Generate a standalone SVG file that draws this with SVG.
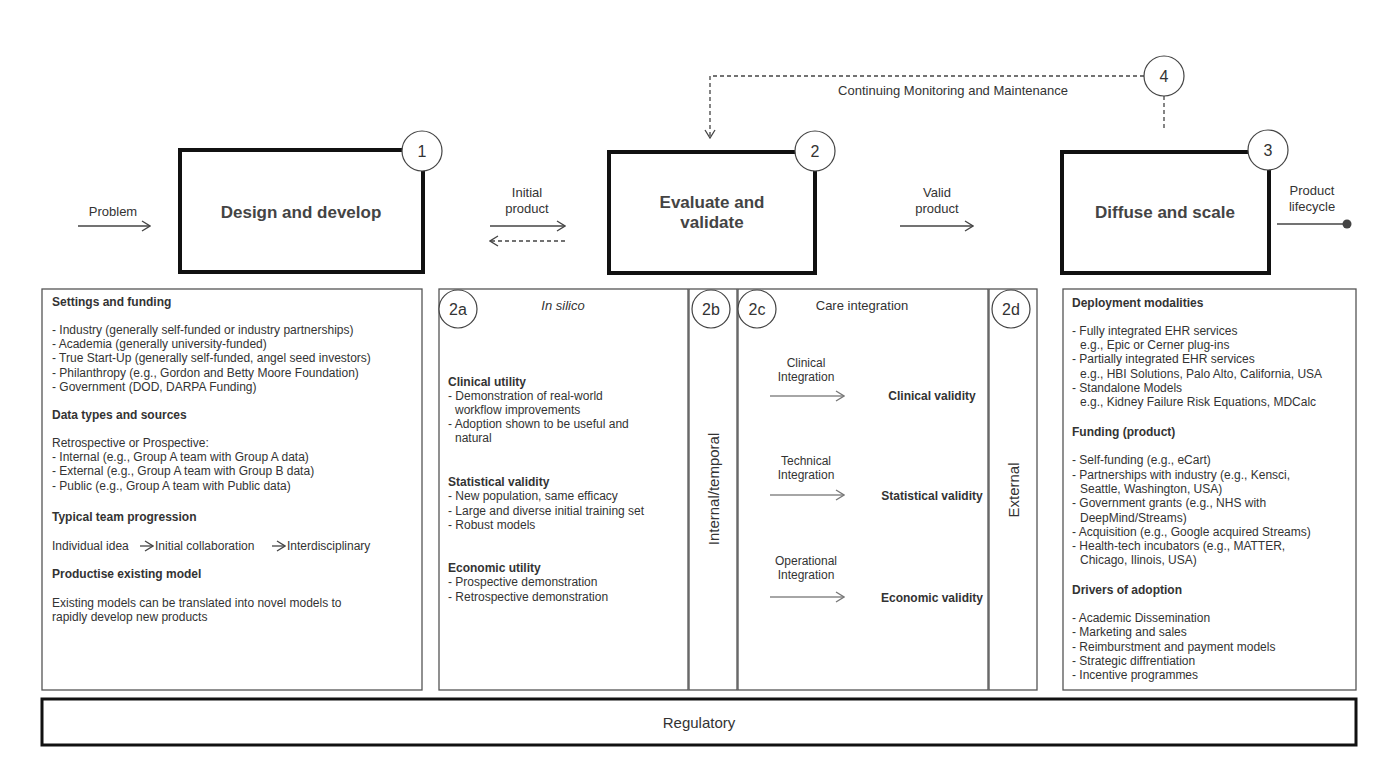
<svg xmlns="http://www.w3.org/2000/svg" width="1400" height="779" viewBox="0 0 1400 779">
<defs>
<marker id="ar" markerWidth="10" markerHeight="12" refX="9" refY="6" orient="auto" markerUnits="userSpaceOnUse"><path d="M1,1 L9,6 L1,11" fill="none" stroke="#444" stroke-width="1.3"/></marker>
<marker id="ag" markerWidth="10" markerHeight="12" refX="9" refY="6" orient="auto" markerUnits="userSpaceOnUse"><path d="M1,1 L9,6 L1,11" fill="none" stroke="#777" stroke-width="1.3"/></marker>
<style>
text{font-family:"Liberation Sans",Arial,sans-serif;fill:#333;font-size:12px}
.big{font-size:17px;font-weight:bold;fill:#444}
.h{font-weight:bold}
.t13{font-size:13px}
.t15{font-size:15px}
.thick{fill:#fff;stroke:#111;stroke-width:4}
.thin{fill:#fff;stroke:#555;stroke-width:1.3}
.c{fill:#fff;stroke:#444;stroke-width:1.2}
.num{font-size:16px;text-anchor:middle}
.ln{stroke:#444;stroke-width:1.3;fill:none}
.g{stroke:#888;stroke-width:1.5;fill:none}
.m{text-anchor:middle}
</style>
</defs>
<rect width="1400" height="779" fill="#fff"/>
<g id="n1"><rect class="thick" x="180" y="150" width="243" height="122"/><text x="301" y="218" class="big m">Design and develop</text><circle class="c" cx="422" cy="151" r="20"/><text x="422" y="157" class="num">1</text></g>
<g id="n2"><rect class="thick" x="609" y="152" width="206" height="121"/><text x="712" y="208" class="big m">Evaluate and</text><text x="712" y="228" class="big m">validate</text><circle class="c" cx="815" cy="151" r="20"/><text x="815" y="157" class="num">2</text></g>
<g id="n3"><rect class="thick" x="1062" y="152" width="207" height="121"/><text x="1165" y="218" class="big m">Diffuse and scale</text><circle class="c" cx="1268" cy="150" r="20"/><text x="1268" y="156" class="num">3</text></g>
<g id="left"><rect class="thin" x="42" y="289" width="380" height="401"/>
<text x="52" y="306" class="h">Settings and funding</text>
<text x="52" y="334">- Industry (generally self-funded or industry partnerships)</text>
<text x="52" y="348">- Academia (generally university-funded)</text>
<text x="52" y="362">- True Start-Up (generally self-funded, angel seed investors)</text>
<text x="52" y="377">- Philanthropy (e.g., Gordon and Betty Moore Foundation)</text>
<text x="52" y="391">- Government (DOD, DARPA Funding)</text>
<text x="52" y="419" class="h">Data types and sources</text>
<text x="52" y="447">Retrospective or Prospective:</text>
<text x="52" y="461">- Internal (e.g., Group A team with Group A data)</text>
<text x="52" y="475">- External (e.g., Group A team with Group B data)</text>
<text x="52" y="490">- Public (e.g., Group A team with Public data)</text>
<text x="52" y="521" class="h">Typical team progression</text>
<text x="52" y="550">Individual idea</text>
<path class="ln" d="M140,546 H153" marker-end="url(#ar)"/>
<text x="155" y="550">Initial collaboration</text>
<path class="ln" d="M272,546 H285" marker-end="url(#ar)"/>
<text x="287" y="550">Interdisciplinary</text>
<text x="52" y="578" class="h">Productise existing model</text>
<text x="52" y="607">Existing models can be translated into novel models to</text>
<text x="52" y="621">rapidly develop new products</text>
</g>
<g id="n2a"><rect class="thin" x="439" y="289" width="249" height="401"/><circle class="c" cx="458" cy="309" r="19"/><text x="458" y="315" class="num">2a</text>
<text x="563" y="310" class="m t13" font-style="italic">In silico</text>
<text x="448" y="386" class="h">Clinical utility</text>
<text x="448" y="400">- Demonstration of real-world</text>
<text x="455" y="414">workflow improvements</text>
<text x="448" y="428">- Adoption shown to be useful and</text>
<text x="455" y="442">natural</text>
<text x="448" y="486" class="h">Statistical validity</text>
<text x="448" y="500">- New population, same efficacy</text>
<text x="448" y="515">- Large and diverse initial training set</text>
<text x="448" y="529">- Robust models</text>
<text x="448" y="572" class="h">Economic utility</text>
<text x="448" y="586">- Prospective demonstration</text>
<text x="448" y="601">- Retrospective demonstration</text>
</g>
<g id="n2b"><rect class="thin" x="689" y="289" width="48" height="401"/><circle class="c" cx="711" cy="309" r="19"/><text x="711" y="315" class="num">2b</text>
<text transform="translate(719,489) rotate(-90)" class="m t15">Internal/temporal</text></g>
<g id="n2c"><rect class="thin" x="738" y="289" width="250" height="401"/><circle class="c" cx="757" cy="309" r="19"/><text x="757" y="315" class="num">2c</text>
<text x="862" y="310" class="m t13">Care integration</text>
<text x="806" y="367" class="m">Clinical</text><text x="806" y="381" class="m">Integration</text>
<text x="932" y="400" class="m h">Clinical validity</text>
<text x="806" y="465" class="m">Technical</text><text x="806" y="479" class="m">Integration</text>
<text x="932" y="500" class="m h">Statistical validity</text>
<text x="806" y="565" class="m">Operational</text><text x="806" y="579" class="m">Integration</text>
<text x="932" y="602" class="m h">Economic validity</text>
</g>
<g id="n2d"><rect class="thin" x="989" y="289" width="48" height="401"/><circle class="c" cx="1011" cy="309" r="19"/><text x="1011" y="315" class="num">2d</text>
<text transform="translate(1019,490) rotate(-90)" class="m t15">External</text></g>
<g id="right"><rect class="thin" x="1063" y="289" width="293" height="401"/>
<text x="1072" y="307" class="h">Deployment modalities</text>
<text x="1072" y="335">- Fully integrated EHR services</text>
<text x="1080" y="349">e.g., Epic or Cerner plug-ins</text>
<text x="1072" y="363">- Partially integrated EHR services</text>
<text x="1080" y="378">e.g., HBI Solutions, Palo Alto, California, USA</text>
<text x="1072" y="392">- Standalone Models</text>
<text x="1080" y="406">e.g., Kidney Failure Risk Equations, MDCalc</text>
<text x="1072" y="436" class="h">Funding (product)</text>
<text x="1072" y="464">- Self-funding (e.g., eCart)</text>
<text x="1072" y="479">- Partnerships with industry (e.g., Kensci,</text>
<text x="1080" y="493">Seattle, Washington, USA)</text>
<text x="1072" y="507">- Government grants (e.g., NHS with</text>
<text x="1080" y="522">DeepMind/Streams)</text>
<text x="1072" y="536">- Acquisition (e.g., Google acquired Streams)</text>
<text x="1072" y="550">- Health-tech incubators (e.g., MATTER,</text>
<text x="1080" y="564">Chicago, Ilinois, USA)</text>
<text x="1072" y="594" class="h">Drivers of adoption</text>
<text x="1072" y="622">- Academic Dissemination</text>
<text x="1072" y="636">- Marketing and sales</text>
<text x="1072" y="651">- Reimburstment and payment models</text>
<text x="1072" y="665">- Strategic diffrentiation</text>
<text x="1072" y="679">- Incentive programmes</text>
</g>
<g id="regulatory"><rect class="thick" x="42" y="699" width="1314" height="46" style="stroke-width:3"/><text x="699" y="728" class="m t15">Regulatory</text></g>
<g id="connectors">
<path class="ln" d="M78,226 H150" marker-end="url(#ar)"/>
<path class="ln" d="M490,226 H565" marker-end="url(#ar)"/>
<path class="ln" d="M565,241 H490" stroke-dasharray="4,3" marker-end="url(#ar)"/>
<path class="ln" d="M900,226 H973" marker-end="url(#ar)"/>
<path class="ln" d="M1277,224 H1345"/>
<circle cx="1347" cy="224" r="4.5" fill="#444"/>
<path class="ln" d="M1144,76 H710 V138" stroke-dasharray="4,3" marker-end="url(#ar)"/>
<path class="ln" d="M1164,96 V131" stroke-dasharray="4,3"/>
<path class="g" d="M770,396 H844" marker-end="url(#ag)"/>
<path class="g" d="M770,495 H844" marker-end="url(#ag)"/>
<path class="g" d="M770,597 H844" marker-end="url(#ag)"/>
<text x="113" y="216" class="m t13">Problem</text>
<text x="527" y="197" class="m t13">Initial</text>
<text x="527" y="213" class="m t13">product</text>
<text x="937" y="197" class="m t13">Valid</text>
<text x="937" y="213" class="m t13">product</text>
<text x="1312" y="195" class="m t13">Product</text>
<text x="1312" y="211" class="m t13">lifecycle</text>
<text x="953" y="95" class="m t13">Continuing Monitoring and Maintenance</text>
</g>
<g id="n4"><circle class="c" cx="1164" cy="76" r="20"/><text x="1164" y="82" class="num">4</text></g>
</svg>
